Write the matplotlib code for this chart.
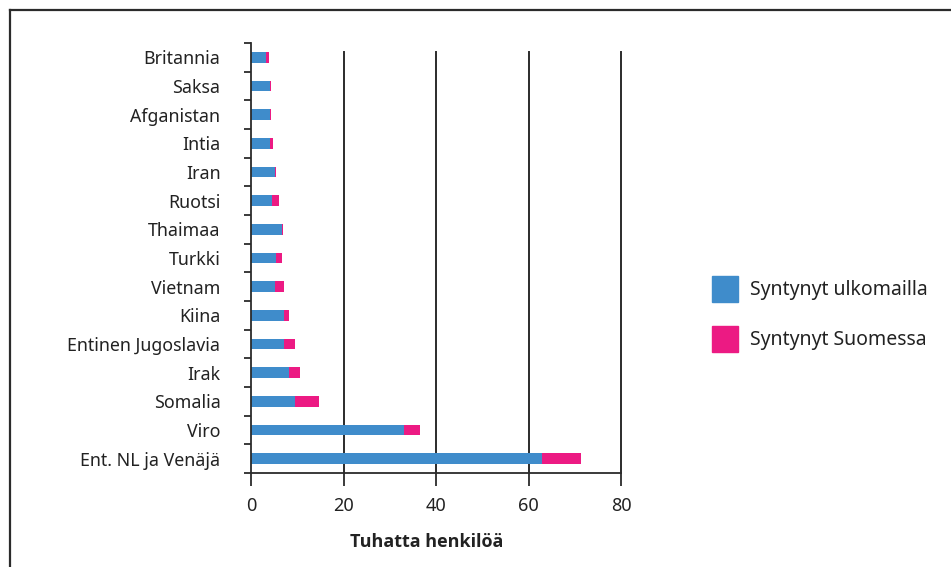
from matplotlib import pyplot as plt
from matplotlib.lines import Line2D
from matplotlib.patches import Patch
import numpy as np

plt.rcParams['font.family'] = ['Noto Sans', 'DejaVu Sans']

# thousands of persons
countries = ["Britannia", "Saksa", "Afganistan", "Intia", "Iran", "Ruotsi",
             "Thaimaa", "Turkki", "Vietnam", "Kiina", "Entinen Jugoslavia",
             "Irak", "Somalia", "Viro", "Ent. NL ja Venäjä"]
born_abroad = [3.3, 4.0, 4.0, 4.0, 5.1, 4.6, 6.8, 5.5, 5.1, 7.2, 7.2,
               8.3, 9.6, 33.0, 62.9]
born_finland = [0.5, 0.4, 0.4, 0.8, 0.4, 1.5, 0.2, 1.3, 2.1, 1.1, 2.4,
                2.4, 5.0, 3.6, 8.5]
xticks = [0, 20, 40, 60, 80]

blue = "#3f8ccb"
pink = "#ec1a83"
dark = "#2b2b2b"
txt = "#222222"

W, H = 951, 567
fig = plt.figure(figsize=(W / 100, H / 100), dpi=100)
ax = fig.add_axes([251 / W, (H - 473) / H, 370 / W, 430 / H])

y = np.arange(len(countries))
ax.barh(y, born_abroad, height=0.37, color=blue, label="Syntynyt ulkomailla")
ax.barh(y, born_finland, left=born_abroad, height=0.37, color=pink,
        label="Syntynyt Suomessa")

ax.set_xlim(0, 80)
ax.set_ylim(-0.5, len(countries) - 0.5)
ax.invert_yaxis()

for v in xticks[1:]:
    ax.axvline(v, ymin=0, ymax=0.979, color=dark, lw=1.4, zorder=0,
               clip_on=False)

for s in ["top", "right"]:
    ax.spines[s].set_visible(False)
for s in ["left", "bottom"]:
    ax.spines[s].set_color(dark)
    ax.spines[s].set_linewidth(1.3)

ax.set_xticks(xticks)
ax.tick_params(axis="x", length=9, width=1.3, color=dark, pad=8,
               labelsize=13, labelcolor=txt)
ax.set_yticks(y)
ax.set_yticklabels(countries)
ax.tick_params(axis="y", which="major", length=0, pad=22,
               labelsize=12.8, labelcolor=txt)
ax.set_yticks(np.arange(-0.5, len(countries)), minor=True)
ax.tick_params(axis="y", which="minor", length=5, width=1.3, color=dark)

fig.text(427 / W, 1 - 542 / H, "Tuhatta henkilöä", ha="center", va="center",
         fontsize=13, fontweight="bold", color=txt,
         family=["Open Sans", "DejaVu Sans"])

handles = [Patch(color=blue), Patch(color=pink)]
leg = fig.legend(handles, ["Syntynyt ulkomailla", "Syntynyt Suomessa"],
                 loc="upper left", bbox_to_anchor=(706 / W, 1 - 270 / H),
                 frameon=False, fontsize=14, handlelength=1.34,
                 handleheight=1.68, handletextpad=0.62, labelspacing=1.25,
                 borderpad=0.3, borderaxespad=0)
for t in leg.get_texts():
    t.set_color(txt)

# frame on the left and top edge
fig.add_artist(Line2D([9.5 / W, 9.5 / W], [0, 1 - 10 / H], color=dark, lw=1.6))
fig.add_artist(Line2D([9.5 / W, 1], [1 - 10 / H, 1 - 10 / H], color=dark, lw=1.6))

fig.savefig("out.png", dpi=100)
